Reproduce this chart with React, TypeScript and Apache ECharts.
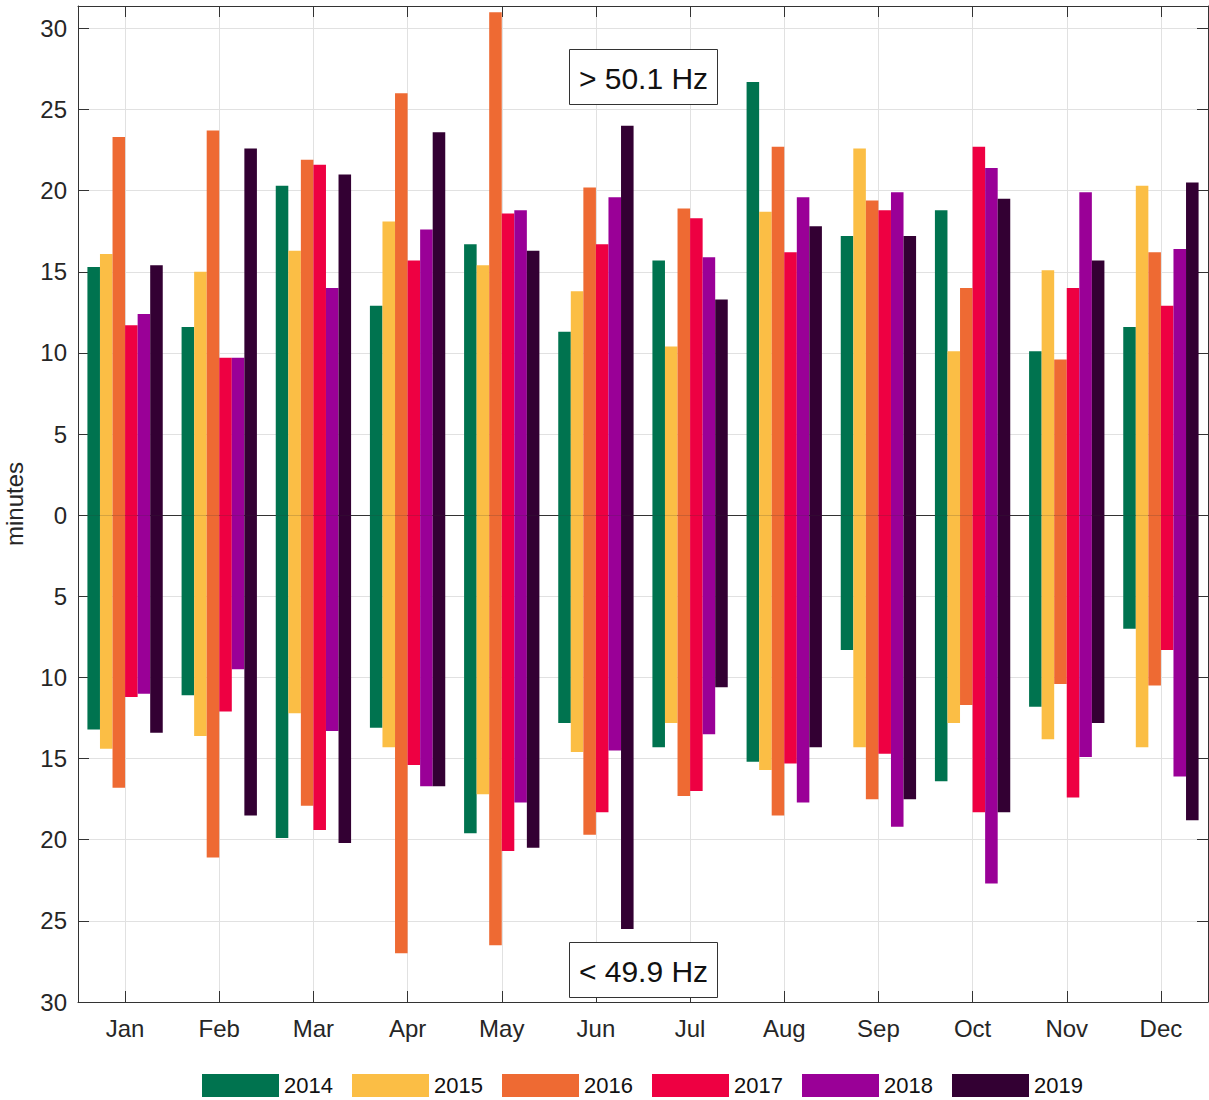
import React, { useEffect, useRef } from "react";
import * as echarts from "echarts";

const months = ["Jan", "Feb", "Mar", "Apr", "May", "Jun", "Jul", "Aug", "Sep", "Oct", "Nov", "Dec"];
const years = ["2014", "2015", "2016", "2017", "2018", "2019"];
const yearColors = ["#00734F", "#FBBE45", "#EE6A33", "#EE0042", "#9A0097", "#330033"];

// minutes above 50.1 Hz
const above2014 = [15.3, 11.6, 20.3, 12.9, 16.7, 11.3, 15.7, 26.7, 17.2, 18.8, 10.1, 11.6];
const above2015 = [16.1, 15.0, 16.3, 18.1, 15.4, 13.8, 10.4, 18.7, 22.6, 10.1, 15.1, 20.3];
const above2016 = [23.3, 23.7, 21.9, 26.0, 31.0, 20.2, 18.9, 22.7, 19.4, 14.0, 9.6, 16.2];
const above2017 = [11.7, 9.7, 21.6, 15.7, 18.6, 16.7, 18.3, 16.2, 18.8, 22.7, 14.0, 12.9];
const above2018 = [12.4, 9.7, 14.0, 17.6, 18.8, 19.6, 15.9, 19.6, 19.9, 21.4, 19.9, 16.4];
const above2019 = [15.4, 22.6, 21.0, 23.6, 16.3, 24.0, 13.3, 17.8, 17.2, 19.5, 15.7, 20.5];

// minutes below 49.9 Hz (drawn downwards)
const below2014 = [-13.2, -11.1, -19.9, -13.1, -19.6, -12.8, -14.3, -15.2, -8.3, -16.4, -11.8, -7.0];
const below2015 = [-14.4, -13.6, -12.2, -14.3, -17.2, -14.6, -12.8, -15.7, -14.3, -12.8, -13.8, -14.3];
const below2016 = [-16.8, -21.1, -17.9, -27.0, -26.5, -19.7, -17.3, -18.5, -17.5, -11.7, -10.4, -10.5];
const below2017 = [-11.2, -12.1, -19.4, -15.4, -20.7, -18.3, -17.0, -15.3, -14.7, -18.3, -17.4, -8.3];
const below2018 = [-11.0, -9.5, -13.3, -16.7, -17.7, -14.5, -13.5, -17.7, -19.2, -22.7, -14.9, -16.1];
const below2019 = [-13.4, -18.5, -20.2, -16.7, -20.5, -25.5, -10.6, -14.3, -17.5, -18.3, -12.8, -18.8];

const aboveData = [above2014, above2015, above2016, above2017, above2018, above2019];
const belowData = [below2014, below2015, below2016, below2017, below2018, below2019];

const yMin = -30;
const yMax = 31.38;
const yInterval = 5;

const FONT = "'Liberation Sans', Arial, Helvetica, sans-serif";
const AXIS_COLOR = "#333333";
const TEXT_COLOR = "#262626";
const GRID_COLOR = "#e1e1e1";

export default function App() {
  const ref = useRef<HTMLDivElement>(null);

  useEffect(() => {
    if (!ref.current) return;
    const chart = echarts.init(ref.current, null, { renderer: "svg" });

    const series: any[] = [];
    years.forEach((y, i) => {
      const common = {
        type: "bar",
        name: y,
        stack: y,
        xAxisIndex: 0,
        yAxisIndex: 0,
        barGap: "0%",
        barCategoryGap: "20%",
        itemStyle: { color: yearColors[i] },
        emphasis: { disabled: true },
      };
      series.push({
        ...common,
        data: aboveData[i],
        ...(i === 0
          ? {
              markLine: {
                silent: true,
                symbol: "none",
                z: 1,
                label: { show: false },
                lineStyle: { color: AXIS_COLOR, width: 1, type: "solid" },
                data: [{ yAxis: 0 }],
              },
            }
          : {}),
      });
      series.push({ ...common, data: belowData[i] });
    });

    const absLabel = (v: number) => (Math.abs(v) % 5 === 0 ? String(Math.abs(v)) : "");

    chart.setOption({
      animation: false,
      textStyle: { fontFamily: FONT },
      grid: { left: 78, right: 1, top: 6, bottom: 98, containLabel: false, outerBoundsMode: "none" },
      legend: {
        data: years,
        left: 202,
        top: 1074,
        padding: 0,
        icon: "rect",
        itemWidth: 77,
        itemHeight: 23,
        itemGap: 16,
        selectedMode: false,
        textStyle: { fontFamily: FONT, fontSize: 22, lineHeight: 23, color: "#111", width: 52 },
      },
      xAxis: [
        {
          type: "category",
          data: months,
          position: "bottom",
          axisLine: { show: true, onZero: false, lineStyle: { color: AXIS_COLOR, width: 1 } },
          axisTick: { show: true, inside: true, alignWithLabel: true, length: 11, lineStyle: { color: AXIS_COLOR } },
          axisLabel: { fontFamily: FONT, fontSize: 24, color: TEXT_COLOR, margin: 14 },
          splitLine: { show: true, alignWithLabel: true, lineStyle: { color: GRID_COLOR, width: 1 } },
        },
        {
          type: "category",
          data: months,
          position: "top",
          axisLine: { show: true, onZero: false, lineStyle: { color: AXIS_COLOR, width: 1 } },
          axisTick: { show: true, inside: true, alignWithLabel: true, length: 11, lineStyle: { color: AXIS_COLOR } },
          axisLabel: { show: false },
          splitLine: { show: false },
        },
      ],
      yAxis: [
        {
          type: "value",
          min: yMin,
          max: yMax,
          interval: yInterval,
          position: "left",
          name: "minutes",
          nameLocation: "middle",
          nameGap: 52,
          nameTextStyle: { fontFamily: FONT, fontSize: 24, color: TEXT_COLOR },
          axisLine: { show: true, lineStyle: { color: AXIS_COLOR, width: 1 } },
          axisTick: { show: true, inside: true, length: 11, lineStyle: { color: AXIS_COLOR } },
          axisLabel: { fontFamily: FONT, fontSize: 24, color: TEXT_COLOR, margin: 11, formatter: absLabel },
          splitLine: { show: true, lineStyle: { color: GRID_COLOR, width: 1 } },
        },
        {
          type: "value",
          min: yMin,
          max: yMax,
          interval: yInterval,
          position: "right",
          axisLine: { show: true, lineStyle: { color: AXIS_COLOR, width: 1 } },
          axisTick: { show: true, inside: true, length: 11, lineStyle: { color: AXIS_COLOR } },
          axisLabel: { show: false },
          splitLine: { show: false },
        },
      ],
      graphic: [
        {
          type: "rect",
          shape: { x: 569.5, y: 49.5, width: 148, height: 55 },
          style: { fill: "#ffffff", stroke: "#333333", lineWidth: 1 },
          z: 10,
        },
        {
          type: "text",
          x: 643.5,
          y: 78,
          style: {
            text: "> 50.1 Hz",
            font: `30px ${FONT}`,
            fill: "#111",
            textAlign: "center",
            textVerticalAlign: "middle",
          },
          z: 11,
        },
        {
          type: "rect",
          shape: { x: 569.5, y: 942.5, width: 148, height: 55 },
          style: { fill: "#ffffff", stroke: "#333333", lineWidth: 1 },
          z: 10,
        },
        {
          type: "text",
          x: 643.5,
          y: 971,
          style: {
            text: "< 49.9 Hz",
            font: `30px ${FONT}`,
            fill: "#111",
            textAlign: "center",
            textVerticalAlign: "middle",
          },
          z: 11,
        },
      ],
      series,
    });

    return () => chart.dispose();
  }, []);

  return (
    <div
      ref={ref}
      style={{ position: "absolute", left: 0, top: 0, width: 1209, height: 1100, background: "#fff" }}
    />
  );
}
